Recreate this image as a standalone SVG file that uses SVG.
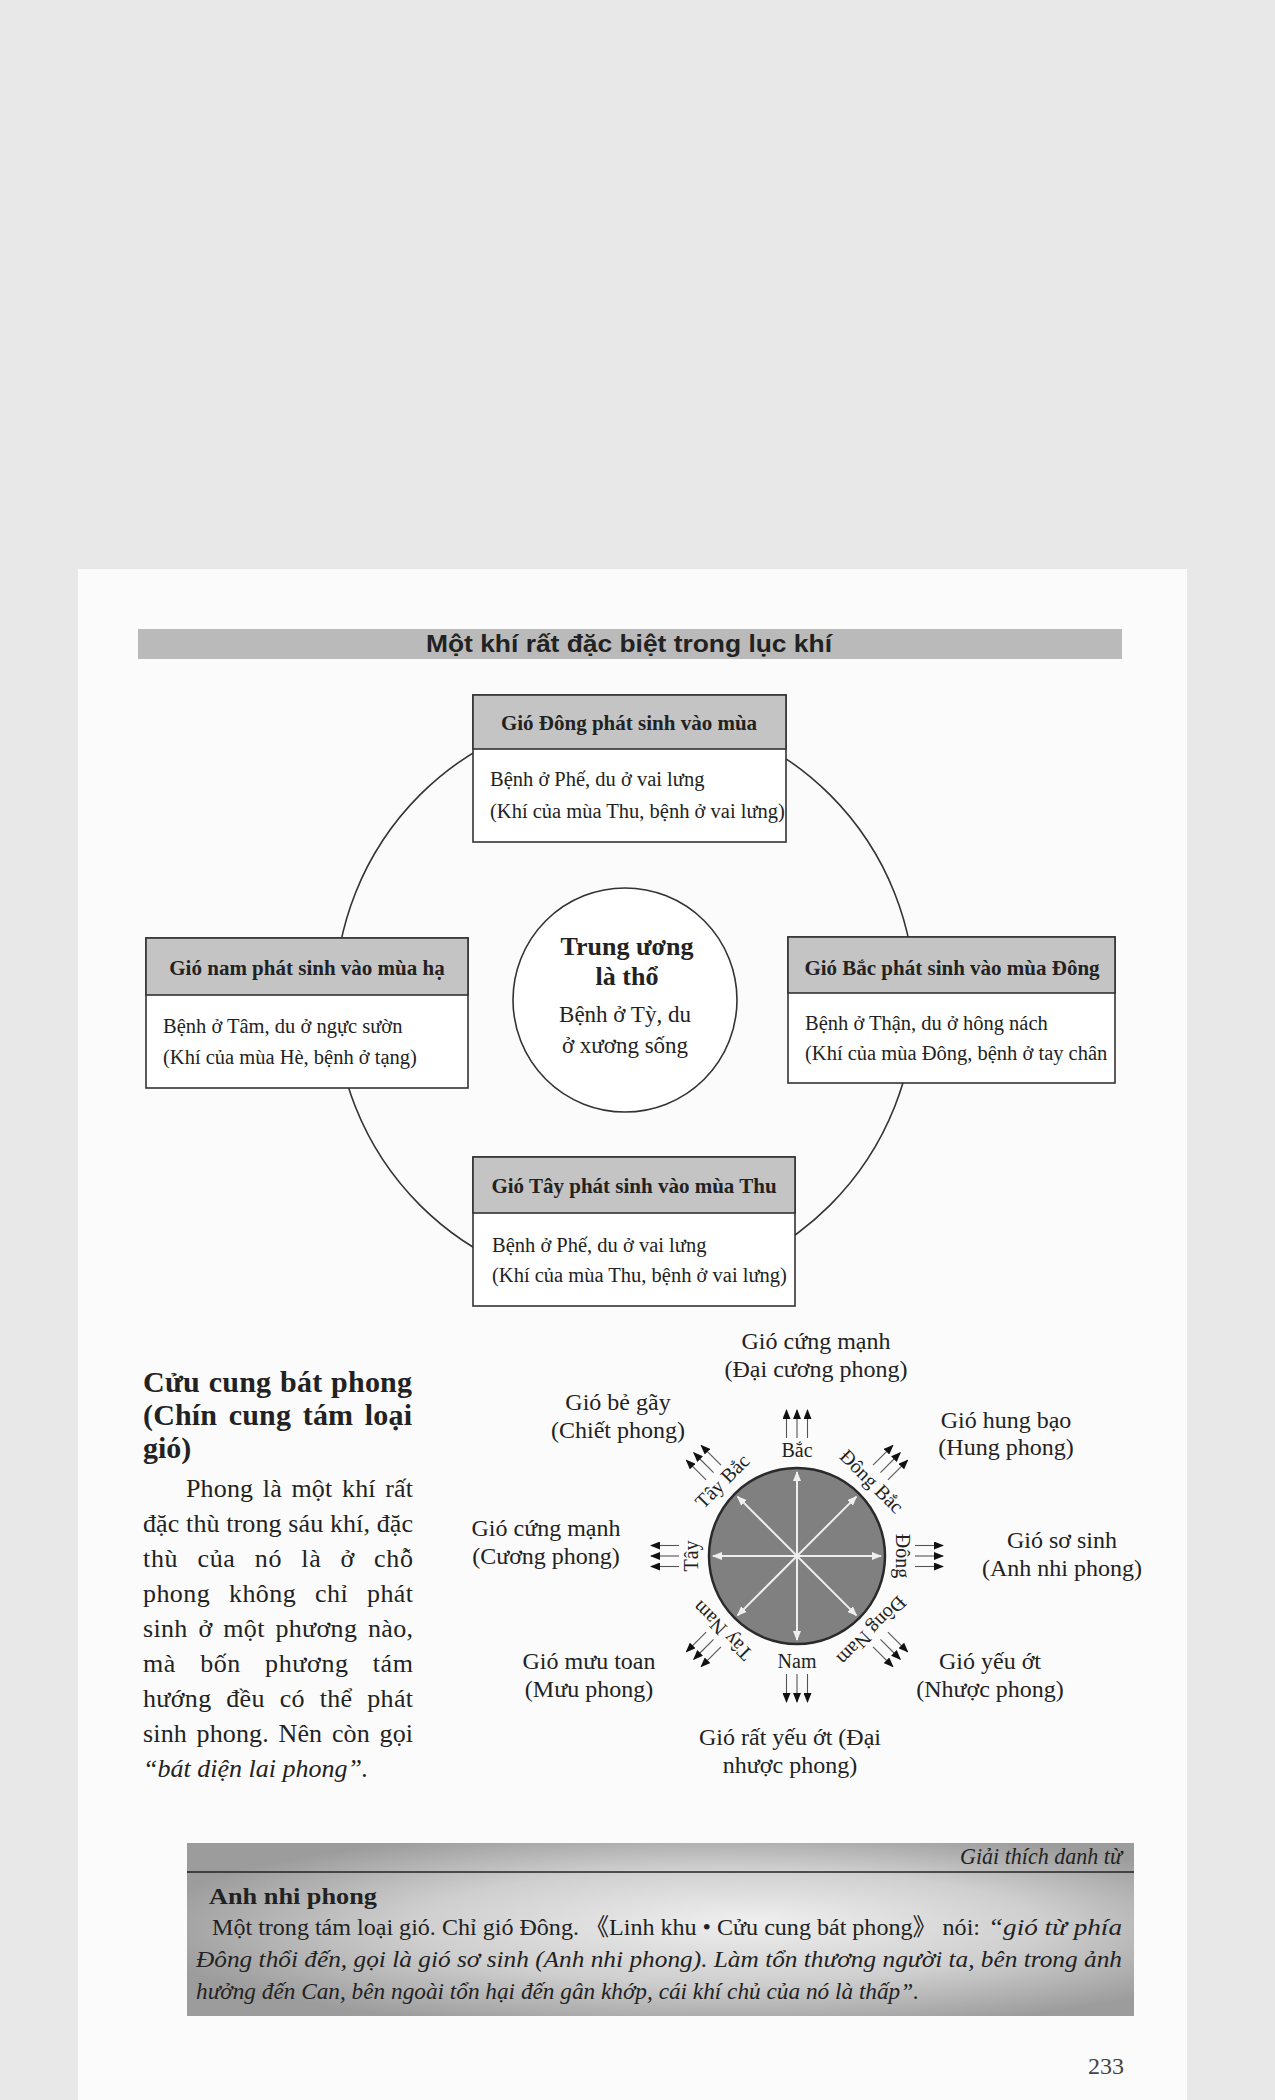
<svg xmlns="http://www.w3.org/2000/svg" xmlns:xlink="http://www.w3.org/1999/xlink" width="1275" height="2100" viewBox="0 0 1275 2100">
<style>
.frame{fill:#fff;stroke:#333;stroke-width:1.6}
.hdr{fill:#c4c4c4;stroke:#333;stroke-width:1.6}
.ring{fill:none;stroke:#333;stroke-width:1.6}
.hb{font-family:"Liberation Serif",serif;font-weight:bold;font-size:21px;fill:#222}
.bt{font-family:"Liberation Serif",serif;font-size:20.5px;fill:#222}
.cb{font-family:"Liberation Serif",serif;font-weight:bold;font-size:26px;fill:#222}
.ct{font-family:"Liberation Serif",serif;font-size:23px;fill:#222}
.wl{font-family:"Liberation Serif",serif;font-size:24px;fill:#222}
.cl{font-family:"Liberation Serif",serif;font-size:20px;fill:#222}
.pt{font-family:"Liberation Serif",serif;font-size:26px;fill:#222}
.ph{font-family:"Liberation Serif",serif;font-weight:bold;font-size:30px;fill:#222}
.gt{font-family:"Liberation Serif","Noto Sans CJK SC",serif;font-size:24px;fill:#222}
.wa{stroke:#eee;stroke-width:2;marker-end:url(#wh)}
.ba{stroke:#555;stroke-width:1.1;marker-end:url(#bk)}
</style>
<defs>
<marker id="wh" viewBox="0 0 10 8" refX="9" refY="4" markerWidth="10" markerHeight="8" markerUnits="userSpaceOnUse" orient="auto"><path d="M0,0 L10,4 L0,8 z" fill="#eee"/></marker>
<marker id="bk" viewBox="0 0 10 8" refX="9" refY="4" markerWidth="10" markerHeight="8" markerUnits="userSpaceOnUse" orient="auto"><path d="M0,0 L10,4 L0,8 z" fill="#111"/></marker>
<g id="trip"><line class="ba" x1="-10.5" y1="-118" x2="-10.5" y2="-146"/><line class="ba" x1="0" y1="-118" x2="0" y2="-146"/><line class="ba" x1="10.5" y1="-118" x2="10.5" y2="-146"/></g>
<line id="ray" class="wa" x1="0" y1="0" x2="0" y2="-84"/>
<radialGradient id="gl" cx="0.55" cy="0.5" r="0.6" fx="0.6" fy="0.45">
<stop offset="0" stop-color="#efefef"/><stop offset="0.55" stop-color="#cfcfcf"/><stop offset="1" stop-color="#9c9c9c"/>
</radialGradient>
</defs>

<rect x="0" y="0" width="1275" height="2100" fill="#e8e8e8"/>
<rect x="78" y="569" width="1109" height="1531" fill="#fbfbfb"/>

<g id="title">
<rect x="138" y="629" width="984" height="30" fill="#bababa"/>
<text x="629" y="652" text-anchor="middle" textLength="406" lengthAdjust="spacingAndGlyphs" style="font-family:'Liberation Sans',sans-serif;font-weight:bold;font-size:24px;fill:#222">Một khí rất đặc biệt trong lục khí</text>
</g>

<g id="connectors">
<circle class="ring" cx="625" cy="1000" r="290"/>
</g>

<g id="node-top">
<rect class="frame" x="473" y="695" width="313" height="147"/>
<rect class="hdr" x="473" y="695" width="313" height="54"/>
<text class="hb" x="629" y="730" text-anchor="middle">Gió Đông phát sinh vào mùa</text>
<text class="bt" x="490" y="786">Bệnh ở Phế, du ở vai lưng</text>
<text class="bt" x="490" y="818">(Khí của mùa Thu, bệnh ở vai lưng)</text>
</g>

<g id="node-left">
<rect class="frame" x="146" y="938" width="322" height="150"/>
<rect class="hdr" x="146" y="938" width="322" height="57"/>
<text class="hb" x="307" y="975" text-anchor="middle" font-size="22">Gió nam phát sinh vào mùa hạ</text>
<text class="bt" x="163" y="1033">Bệnh ở Tâm, du ở ngực sườn</text>
<text class="bt" x="163" y="1064">(Khí của mùa Hè, bệnh ở tạng)</text>
</g>

<g id="node-right">
<rect class="frame" x="788" y="937" width="327" height="146"/>
<rect class="hdr" x="788" y="937" width="327" height="56"/>
<text class="hb" x="952" y="975" text-anchor="middle">Gió Bắc phát sinh vào mùa Đông</text>
<text class="bt" x="805" y="1030">Bệnh ở Thận, du ở hông nách</text>
<text class="bt" x="805" y="1060">(Khí của mùa Đông, bệnh ở tay chân</text>
</g>

<g id="node-bottom">
<rect class="frame" x="473" y="1157" width="322" height="149"/>
<rect class="hdr" x="473" y="1157" width="322" height="56"/>
<text class="hb" x="634" y="1193" text-anchor="middle">Gió Tây phát sinh vào mùa Thu</text>
<text class="bt" x="492" y="1252">Bệnh ở Phế, du ở vai lưng</text>
<text class="bt" x="492" y="1282">(Khí của mùa Thu, bệnh ở vai lưng)</text>
</g>

<g id="node-center">
<circle class="frame" cx="625" cy="1000" r="112"/>
<text class="cb" x="627" y="955" text-anchor="middle">Trung ương</text>
<text class="cb" x="627" y="985" text-anchor="middle">là thổ</text>
<text class="ct" x="625" y="1022" text-anchor="middle">Bệnh ở Tỳ, du</text>
<text class="ct" x="625" y="1053" text-anchor="middle">ở xương sống</text>
</g>

<g id="side-text">
<text class="ph" x="143" y="1392" word-spacing="1" textLength="269" lengthAdjust="spacing">Cửu cung bát phong</text>
<text class="ph" x="143" y="1425" word-spacing="4" textLength="269" lengthAdjust="spacing">(Chín cung tám loại</text>
<text class="ph" x="143" y="1458">gió)</text>
<text class="pt" x="186" y="1497" word-spacing="3" textLength="227" lengthAdjust="spacing">Phong là một khí rất</text>
<text class="pt" x="143" y="1532" textLength="270" lengthAdjust="spacing">đặc thù trong sáu khí, đặc</text>
<text class="pt" x="143" y="1567" word-spacing="12" textLength="270" lengthAdjust="spacing">thù của nó là ở chỗ</text>
<text class="pt" x="143" y="1602" word-spacing="12" textLength="270" lengthAdjust="spacing">phong không chỉ phát</text>
<text class="pt" x="143" y="1637" word-spacing="4" textLength="270" lengthAdjust="spacing">sinh ở một phương nào,</text>
<text class="pt" x="143" y="1672" word-spacing="17" textLength="270" lengthAdjust="spacing">mà bốn phương tám</text>
<text class="pt" x="143" y="1707" word-spacing="8" textLength="270" lengthAdjust="spacing">hướng đều có thể phát</text>
<text class="pt" x="143" y="1742" word-spacing="3" textLength="270" lengthAdjust="spacing">sinh phong. Nên còn gọi</text>
<text class="pt" x="143" y="1777" font-style="italic">“bát diện lai phong”.</text>
</g>

<g id="compass">
<circle cx="797" cy="1556" r="88" fill="#808080" stroke="#2a2a2a" stroke-width="2.5"/>
<g transform="translate(797,1556)">
<use xlink:href="#ray"/>
<use xlink:href="#ray" transform="rotate(45)"/>
<use xlink:href="#ray" transform="rotate(90)"/>
<use xlink:href="#ray" transform="rotate(135)"/>
<use xlink:href="#ray" transform="rotate(180)"/>
<use xlink:href="#ray" transform="rotate(225)"/>
<use xlink:href="#ray" transform="rotate(270)"/>
<use xlink:href="#ray" transform="rotate(315)"/>
<use xlink:href="#trip"/>
<use xlink:href="#trip" transform="rotate(45)"/>
<use xlink:href="#trip" transform="rotate(90)"/>
<use xlink:href="#trip" transform="rotate(135)"/>
<use xlink:href="#trip" transform="rotate(180)"/>
<use xlink:href="#trip" transform="rotate(225)"/>
<use xlink:href="#trip" transform="rotate(270)"/>
<use xlink:href="#trip" transform="rotate(315)"/>
<text class="cl" y="-99" text-anchor="middle">Bắc</text>
<text class="cl" y="-99" text-anchor="middle" transform="rotate(45)">Đông Bắc</text>
<text class="cl" y="-99" text-anchor="middle" transform="rotate(90)">Đông</text>
<text class="cl" y="-99" text-anchor="middle" transform="rotate(135)">Đông Nam</text>
<text class="cl" x="0" y="112" text-anchor="middle">Nam</text>
<text class="cl" y="-99" text-anchor="middle" transform="rotate(-135)">Tây Nam</text>
<text class="cl" y="-99" text-anchor="middle" transform="rotate(-90)">Tây</text>
<text class="cl" y="-99" text-anchor="middle" transform="rotate(-45)">Tây Bắc</text>
</g>
</g>

<g id="wind-labels">
<text class="wl" x="816" y="1349" text-anchor="middle">Gió cứng mạnh</text>
<text class="wl" x="816" y="1377" text-anchor="middle">(Đại cương phong)</text>
<text class="wl" x="618" y="1410" text-anchor="middle">Gió bẻ gãy</text>
<text class="wl" x="618" y="1438" text-anchor="middle">(Chiết phong)</text>
<text class="wl" x="1006" y="1428" text-anchor="middle">Gió hung bạo</text>
<text class="wl" x="1006" y="1455" text-anchor="middle">(Hung phong)</text>
<text class="wl" x="546" y="1536" text-anchor="middle">Gió cứng mạnh</text>
<text class="wl" x="546" y="1564" text-anchor="middle">(Cương phong)</text>
<text class="wl" x="1062" y="1548" text-anchor="middle">Gió sơ sinh</text>
<text class="wl" x="1062" y="1576" text-anchor="middle">(Anh nhi phong)</text>
<text class="wl" x="589" y="1669" text-anchor="middle">Gió mưu toan</text>
<text class="wl" x="589" y="1697" text-anchor="middle">(Mưu phong)</text>
<text class="wl" x="990" y="1669" text-anchor="middle">Gió yếu ớt</text>
<text class="wl" x="990" y="1697" text-anchor="middle">(Nhược phong)</text>
<text class="wl" x="790" y="1745" text-anchor="middle">Gió rất yếu ớt (Đại</text>
<text class="wl" x="790" y="1773" text-anchor="middle">nhược phong)</text>
</g>

<g id="glossary">
<rect x="187" y="1843" width="947" height="173" fill="url(#gl)"/>
<line x1="187" y1="1872" x2="1134" y2="1872" stroke="#222" stroke-width="1.5"/>
<text class="gt" x="1122" y="1864" text-anchor="end" font-style="italic" font-size="20" textLength="162" lengthAdjust="spacingAndGlyphs">Giải thích danh từ</text>
<text class="gt" x="209" y="1904" font-weight="bold" font-size="26" textLength="168" lengthAdjust="spacingAndGlyphs">Anh nhi phong</text>
<text class="gt" x="212" y="1935" textLength="768" lengthAdjust="spacingAndGlyphs">Một trong tám loại gió. Chỉ gió Đông. 《Linh khu • Cửu cung bát phong》 nói:</text>
<text class="gt" x="988" y="1935" font-style="italic" textLength="134" lengthAdjust="spacingAndGlyphs">“gió từ phía</text>
<text class="gt" x="196" y="1967" font-style="italic" textLength="926" lengthAdjust="spacingAndGlyphs">Đông thổi đến, gọi là gió sơ sinh (Anh nhi phong). Làm tổn thương người ta, bên trong ảnh</text>
<text class="gt" x="196" y="1999" font-style="italic" textLength="723" lengthAdjust="spacingAndGlyphs">hưởng đến Can, bên ngoài tổn hại đến gân khớp, cái khí chủ của nó là thấp”.</text>
</g>

<text x="1106" y="2074" text-anchor="middle" style="font-family:'Liberation Serif',serif;font-size:24px;fill:#444">233</text>
</svg>
